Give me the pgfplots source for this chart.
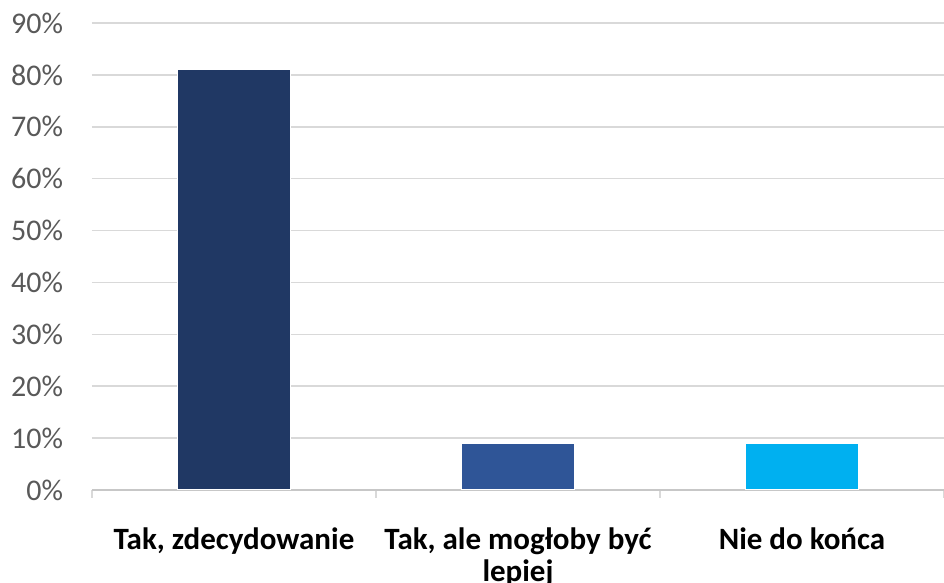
\documentclass[border=0pt]{standalone}
\usepackage{pgfplots}
\pgfplotsset{compat=1.18}
\usepackage{fontspec}
\setmainfont{Carlito}
\definecolor{c1}{HTML}{203864}
\definecolor{c2}{HTML}{2F5597}
\definecolor{c3}{HTML}{00B0F0}
\definecolor{tickgray}{HTML}{595959}
\definecolor{gridgray}{HTML}{D9D9D9}
\newcommand{\twolines}[2]{\vtop{\baselineskip=16pt\lineskiplimit=-20pt\hbox to 0pt{\hss #1\hss}\hbox to 0pt{\hss #2\hss}}}
\begin{document}
\begin{tikzpicture}
\begin{axis}[
  scale only axis,
  width=426pt, height=233.5pt,
  xmin=-0.5, xmax=2.5,
  ymin=0, ymax=90,
  ytick={0,10,...,90},
  yticklabel={\pgfmathprintnumber{\tick}\%},
  /pgf/number format/assume math mode=true,
  yticklabel style={font=\fontsize{15}{18}\selectfont, text=tickgray, inner sep=0pt, xshift=-10pt},
  ymajorgrids,
  major grid style={gridgray, line width=0.8pt},
  axis line style={draw=none},
  major y tick style={draw=none},
  xtick={0,1,2},
  xticklabels={{Tak, zdecydowanie},{\twolines{Tak, ale mogłoby być}{lepiej}},{Nie do końca}},
  xticklabel style={font=\fontsize{15.5}{16}\selectfont\bfseries, text=black, anchor=north, inner sep=0pt, yshift=-14.5pt},
  major x tick style={draw=none},
  minor xtick={-0.5,0.5,1.5,2.5},
  minor x tick style={draw=gridgray, line width=0.8pt},
  xtick pos=bottom, ytick pos=left,
  tick align=outside,
  minor tick length=4pt,
  ybar, bar width=0.4, bar shift=0pt,
  clip=false,
]
\draw[gridgray!80!gray, line width=0.8pt] (axis cs:-0.5,0) -- (axis cs:2.5,0);
\addplot[fill=c1, draw=white, line width=0.5pt] coordinates {(0,81)};
\addplot[fill=c2, draw=white, line width=0.5pt] coordinates {(1,9)};
\addplot[fill=c3, draw=white, line width=0.5pt] coordinates {(2,9)};
\end{axis}
\pgfresetboundingbox
\useasboundingbox ([shift={(-46pt,-46.5pt)}]current axis.south west) rectangle ([shift={(0pt,11.5pt)}]current axis.north east);
\end{tikzpicture}
\end{document}
